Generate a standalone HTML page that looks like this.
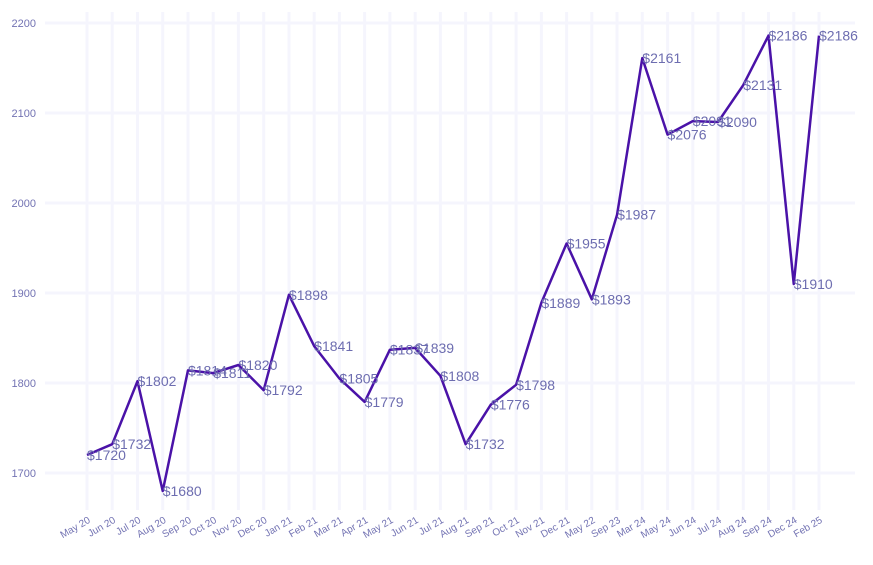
<!DOCTYPE html>
<html><head><meta charset="utf-8"><style>
body{margin:0;background:#fff;}
svg{display:block;font-family:"Liberation Sans",sans-serif;}
</style></head><body>
<svg id="chart" width="873" height="565"></svg>
<script>
const categories=["May 20","Jun 20","Jul 20","Aug 20","Sep 20","Oct 20","Nov 20","Dec 20","Jan 21","Feb 21","Mar 21","Apr 21","May 21","Jun 21","Jul 21","Aug 21","Sep 21","Oct 21","Nov 21","Dec 21","May 22","Sep 23","Mar 24","May 24","Jun 24","Jul 24","Aug 24","Sep 24","Dec 24","Feb 25"];
const values=[1720,1732,1802,1680,1814,1811,1820,1792,1898,1841,1805,1779,1837,1839,1808,1732,1776,1798,1889,1955,1893,1987,2161,2076,2091,2090,2131,2186,1910,2186];
const yTicks=[1700,1800,1900,2000,2100,2200];
const NS="http://www.w3.org/2000/svg";
const svg=document.getElementById('chart');
const x=i=>87+i*(819-87)/(categories.length-1);
const y=v=>473-(v-1700)*0.9;
function mk(t,a){const e=document.createElementNS(NS,t);for(const k in a)e.setAttribute(k,a[k]);svg.appendChild(e);return e;}
categories.forEach((c,i)=>{
  const g=mk('line',{x1:x(i),x2:x(i),y1:12,y2:510,stroke:'#f5f5fd','stroke-width':3});
  
  
  const t=mk('text',{x:x(i)+4,y:522,'text-anchor':'end','font-size':10,fill:'#7373b3',transform:`rotate(-30 ${x(i)+4} 522)`});
  t.textContent=c;
  
  
});
yTicks.forEach(v=>{
  const g=mk('line',{x1:45,x2:855,y1:y(v),y2:y(v),stroke:'#f5f5fd','stroke-width':3});
  
  
  const t=mk('text',{x:36,y:y(v)+4,'text-anchor':'end','font-size':11,fill:'#7373b3'});
  t.textContent=v;
  
  
});
const p=mk('polyline',{points:values.map((v,i)=>x(i)+','+y(v)).join(' '),fill:'none',stroke:'#4a12a8','stroke-width':2.5,'stroke-linejoin':'round'});


values.forEach((v,i)=>{
  const t=mk('text',{x:x(i),y:y(v)+5,'font-size':14,fill:'#6d6db0'});
  t.textContent='$'+v;
  
  
});
</script>
</body></html>
